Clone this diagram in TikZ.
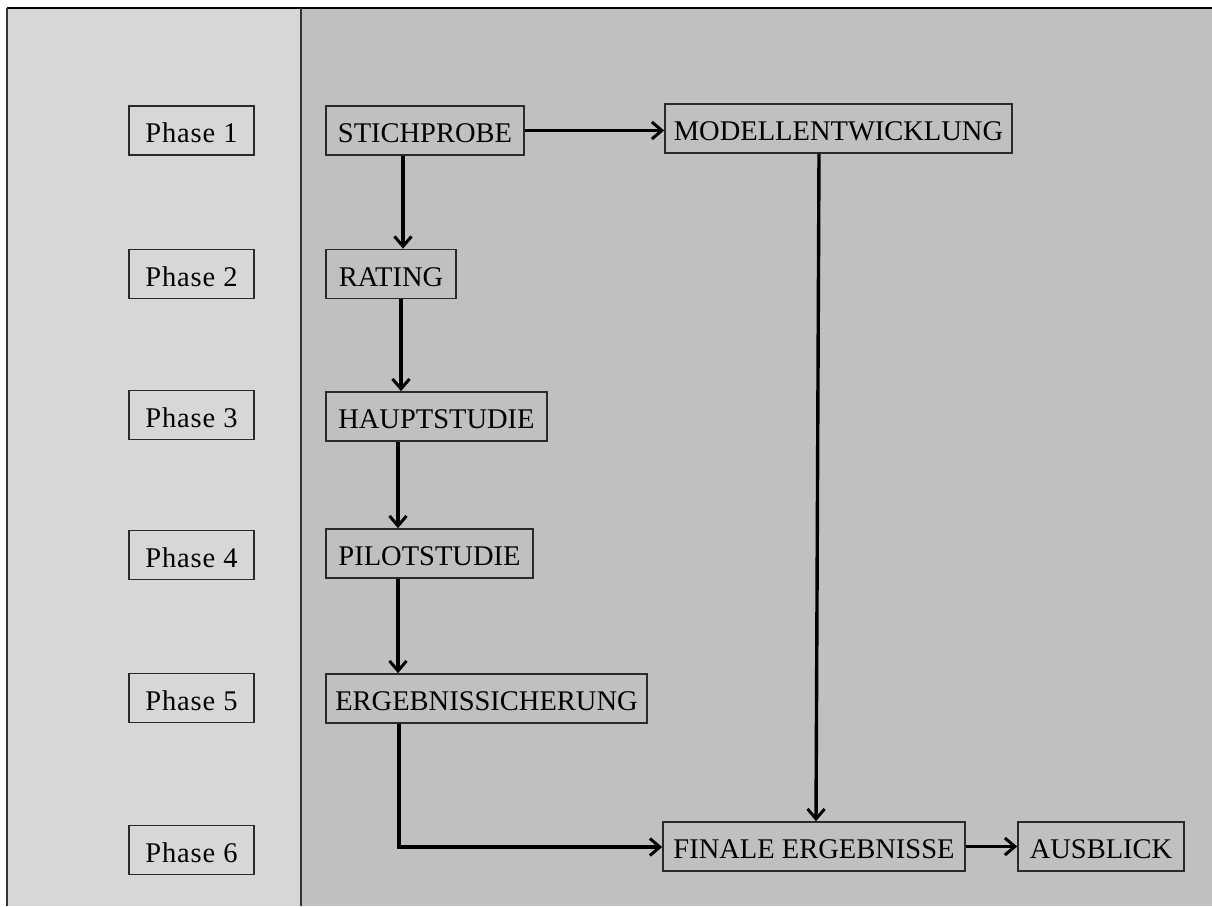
\documentclass[tikz,border=0pt]{standalone}
\usepackage{fontspec}
\setmainfont{Liberation Serif}
\usetikzlibrary{arrows.meta}
\definecolor{leftpanel}{HTML}{D7D7D7}
\definecolor{rightpanel}{HTML}{C0C0C0}
\definecolor{boxline}{HTML}{2A2A2A}
\begin{document}
\begin{tikzpicture}[x=1pt,y=-1pt,
  box/.style={draw=boxline,line width=1.6pt,inner sep=0pt,minimum height=49pt,
    text height=24pt,text depth=0pt,
    font=\fontsize{28.5}{31}\selectfont,text=black,anchor=center},
  wide/.style={font=\fontsize{28.5}{31}\selectfont\addfontfeatures{LetterSpace=3}},
  flow/.style={line width=3.4pt,-{Straight Barb[length=10pt,width=17pt,line width=3pt]}}]
\useasboundingbox (0,0) rectangle (1212,906);
\fill[white] (0,0) rectangle (1212,906);
% panels
\fill[leftpanel] (7,8) rectangle (301,906);
\fill[rightpanel] (301,8) rectangle (1212,906);
\draw[line width=1.5pt,black] (7,8) -- (1212,8);
\draw[line width=1.2pt,black!80] (7,8) -- (7,906);
\draw[line width=1.2pt,black!80] (301,8) -- (301,906);
% phase labels
\node[box,wide,minimum width=125pt] (p1) at (191.5,130.5) {Phase 1};
\node[box,wide,minimum width=125pt] (p2) at (191.5,274) {Phase 2};
\node[box,wide,minimum width=125pt] (p3) at (191.5,415) {Phase 3};
\node[box,wide,minimum width=125pt] (p4) at (191.5,555) {Phase 4};
\node[box,wide,minimum width=125pt] (p5) at (191.5,698) {Phase 5};
\node[box,wide,minimum width=125pt] (p6) at (191.5,850) {Phase 6};
% process steps
\node[box,minimum width=198pt] (stich) at (425,130.5) {STICHPROBE};
\node[box,minimum width=347pt] (modell) at (838.5,128.5) {MODELLENTWICKLUNG};
\node[box,minimum width=130pt] (rating) at (391,274) {RATING};
\node[box,minimum width=221pt] (haupt) at (436.5,416.5) {HAUPTSTUDIE};
\node[box,minimum width=207pt] (pilot) at (429.5,553.5) {PILOTSTUDIE};
\node[box,minimum width=321pt] (ergeb) at (486.5,698.5) {ERGEBNISSICHERUNG};
\node[box,minimum width=302pt] (finale) at (814,846.5) {FINALE ERGEBNISSE};
\node[box,minimum width=166pt] (ausblick) at (1101,846.5) {AUSBLICK};
% connectors
\coordinate (corner) at (399,847);
\draw[flow] (stich.east) -- (modell.west |- stich.east);
\draw[flow] (stich.south -| 403,0) -- (rating.north -| 403,0);
\draw[flow] (rating.south -| 401,0) -- (haupt.north -| 401,0);
\draw[flow] (haupt.south -| 398,0) -- (pilot.north -| 398,0);
\draw[flow] (pilot.south -| 398,0) -- (ergeb.north -| 398,0);
\draw[flow] (ergeb.south -| corner) -- (corner) -- (finale.west |- corner);
\draw[flow] (modell.south -| 819,0) -- (finale.north -| 816,0);
\draw[flow] (finale.east) -- (ausblick.west);
\end{tikzpicture}
\end{document}
